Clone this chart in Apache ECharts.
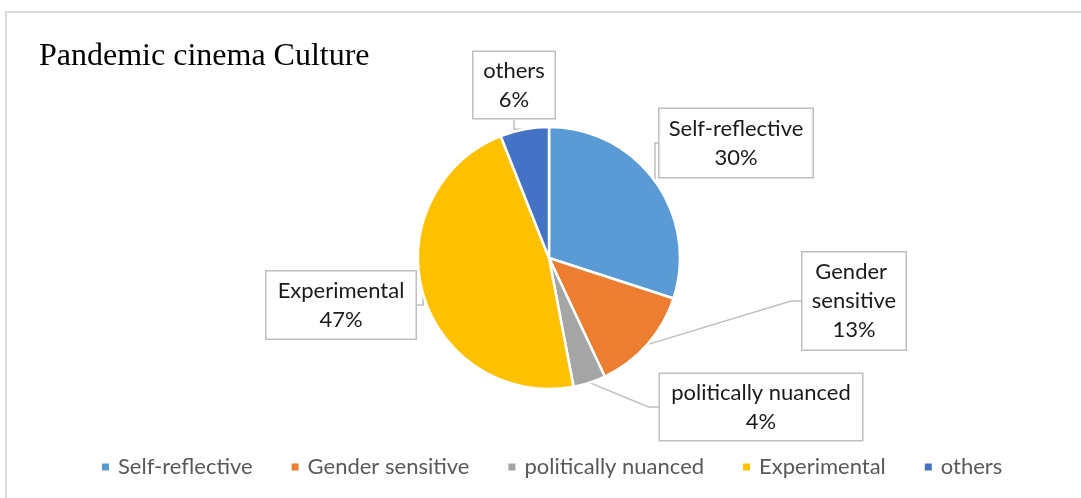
<!DOCTYPE html>
<html>
<head>
<meta charset="utf-8">
<script src="https://cdn.jsdelivr.net/npm/echarts@6/dist/echarts.min.js"></script>
<style>
  html, body { margin: 0; padding: 0; background: #fff; }
  #chart { width: 1081px; height: 498px; }
</style>
</head>
<body>
<div id="chart"></div>
<script>
// Share of films by type of pandemic-era cinema
const categories = ['Self-reflective', 'Gender sensitive', 'politically nuanced', 'Experimental', 'others'];
const shares = [30, 13, 4, 47, 6];
const colors = ['#5B9BD5', '#ED7D31', '#A5A5A5', '#FFC000', '#4472C4'];

// Callout boxes: centre x, centre y, box width, box height, number of text lines
const calloutBoxes = [
  [736, 143, 153, 68, 2],
  [854, 301, 103, 97, 3],
  [761, 407, 202, 66, 2],
  [341, 305, 149, 67, 2],
  [514, 85, 81, 66, 2]
];

const LINE_H = 29;
const FONT = 'Lato, "Open Sans", sans-serif';

const pieData = categories.map((name, i) => {
  const box = calloutBoxes[i];
  const padV = Math.max(0, (box[3] - box[4] * LINE_H) / 2);
  return {
    name: name,
    value: shares[i],
    itemStyle: { color: colors[i] },
    label: {
      width: box[2],
      padding: [padV, 0, padV, 0],
      overflow: 'break'
    }
  };
});

const chart = echarts.init(document.getElementById('chart'), null, { renderer: 'canvas' });

chart.setOption({
  animation: false,
  backgroundColor: '#ffffff',
  title: {
    text: 'Pandemic cinema Culture',
    left: 39,
    top: 41,
    padding: 0,
    textStyle: {
      fontFamily: '"Liberation Serif", "Times New Roman", serif',
      fontSize: 32,
      fontWeight: 'normal',
      color: '#000000',
      lineHeight: 32
    }
  },
  graphic: [{
    type: 'rect',
    silent: true,
    z: -1,
    shape: { x: 6, y: 12, width: 1200, height: 600 },
    style: { fill: null, stroke: '#d9d9d9', lineWidth: 2 }
  }],
  legend: {
    data: categories,
    left: 100,
    top: 456,
    padding: 0,
    icon: 'rect',
    itemWidth: 9,
    itemHeight: 9,
    itemGap: 37,
    textStyle: {
      fontFamily: FONT,
      fontSize: 22,
      lineHeight: 22,
      color: '#595959',
      padding: [0, 0, 0, 3]
    }
  },
  series: [{
    type: 'pie',
    center: [549, 258],
    radius: [0, 131],
    startAngle: 90,
    clockwise: true,
    percentPrecision: 0,
    itemStyle: { borderColor: '#ffffff', borderWidth: 2.5 },
    emphasis: { disabled: true },
    label: {
      show: true,
      position: 'outside',
      formatter: '{b}\n{d}%',
      fontFamily: FONT,
      fontSize: 22,
      lineHeight: LINE_H,
      color: '#1a1a1a',
      align: 'center',
      backgroundColor: '#ffffff',
      borderColor: '#bfbfbf',
      borderWidth: 1.5
    },
    labelLine: {
      show: true,
      length: 10,
      length2: 10,
      lineStyle: { color: '#bfbfbf', width: 1.5 }
    },
    labelLayout: function (params) {
      const box = calloutBoxes[params.dataIndex];
      return {
        x: box[0],
        y: box[1],
        align: 'center',
        verticalAlign: 'middle',
        hideOverlap: false,
        moveOverlap: false
      };
    },
    data: pieData
  }]
});
</script>
</body>
</html>
